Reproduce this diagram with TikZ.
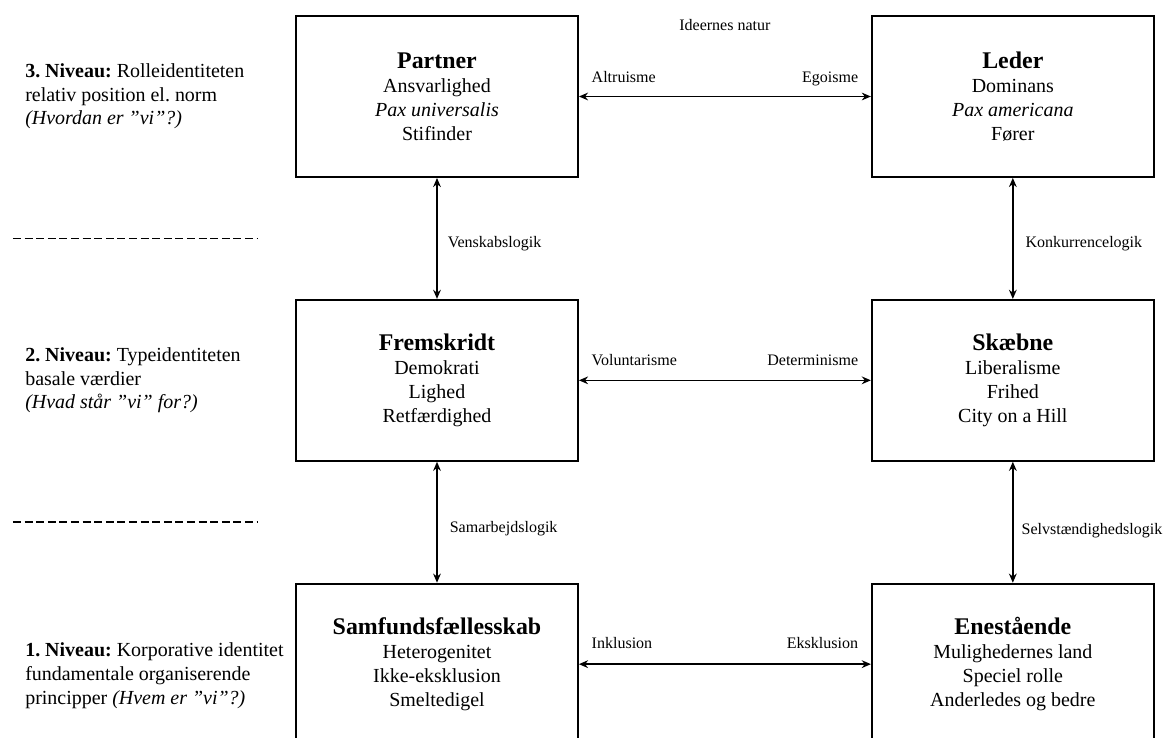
\documentclass[tikz,border=0pt]{standalone}
\usepackage{fontspec}
\setmainfont{Liberation Serif}
\usetikzlibrary{positioning, calc, arrows.meta}
\newcommand{\idtitle}[1]{{\fontsize{17}{20}\selectfont\bfseries #1}}
\frenchspacing

\begin{document}
\begin{tikzpicture}[
    node distance=3.025cm and 7.3cm,
    idbox/.style={rectangle, draw, line width=1.3pt,
                  minimum width=7.05cm, minimum height=4.025cm, align=center,
                  font=\fontsize{14.2}{17}\selectfont},
    level/.style={anchor=west, align=left, inner sep=0pt,
                  font=\fontsize{14.2}{16.8}\selectfont},
    lbl/.style={inner sep=0pt, font=\fontsize{11.4}{13}\selectfont},
    bidir/.style={<->, >={Stealth[length=6.5pt, width=5.5pt]}, line width=1.1pt},
    divider/.style={line width=1.2pt, dash pattern=on 0.2cm off 0.09cm},
  ]
    \useasboundingbox (0,0) rectangle (29.2,-18.45);
    \clip (0,0) rectangle (29.2,-18.45);

    % Boxes
    \node[idbox] (Partner) at (10.925,-2.4125)
      {\idtitle{Partner}\\Ansvarlighed\\\textit{Pax universalis}\\Stifinder};
    \node[idbox, right=of Partner] (Leder)
      {\idtitle{Leder}\\Dominans\\\textit{Pax americana}\\Fører};
    \node[idbox, below=of Partner] (Fremskridt)
      {\idtitle{Fremskridt}\\Demokrati\\Lighed\\Retfærdighed};
    \node[idbox, below=of Leder] (Skaebne)
      {\idtitle{Skæbne}\\Liberalisme\\Frihed\\City on a Hill};
    \node[idbox, below=of Fremskridt] (Samfund)
      {\idtitle{Samfundsfællesskab}\\Heterogenitet\\Ikke-eksklusion\\Smeltedigel};
    \node[idbox, below=of Skaebne] (Enestaaende)
      {\idtitle{Enestående}\\Mulighedernes land\\Speciel rolle\\Anderledes og bedre};

    % Levels
    \coordinate (LX) at (0.625,0);
    \node[level] (L3) at (LX |- Partner)
      {\textbf{3. Niveau:} Rolleidentiteten\\relativ position el. norm\\\textit{(Hvordan er ”vi”?)}};
    \node[level] (L2) at (LX |- Fremskridt)
      {\textbf{2. Niveau:} Typeidentiteten\\basale værdier\\\textit{(Hvad står ”vi” for?)}};
    \node[level, yshift=-0.29cm] (L1) at (LX |- Samfund)
      {\textbf{1. Niveau:} Korporative identitet\\fundamentale organiserende\\principper \textit{(Hvem er ”vi”?)}};

    % Horizontal arrows
    \draw[bidir] (Partner) -- (Leder)
      node[lbl, pos=0, anchor=base west, xshift=0.3cm, yshift=0.34cm] {Altruisme}
      node[lbl, pos=1, anchor=base east, xshift=-0.3cm, yshift=0.34cm] {Egoisme}
      node[lbl, midway, anchor=base, yshift=1.65cm] {Ideernes natur};
    \draw[bidir] (Fremskridt) -- (Skaebne)
      node[lbl, pos=0, anchor=base west, xshift=0.3cm, yshift=0.36cm] {Voluntarisme}
      node[lbl, pos=1, anchor=base east, xshift=-0.3cm, yshift=0.36cm] {Determinisme};
    \draw[bidir] (Samfund) -- (Enestaaende)
      node[lbl, pos=0, anchor=base west, xshift=0.3cm, yshift=0.38cm] {Inklusion}
      node[lbl, pos=1, anchor=base east, xshift=-0.3cm, yshift=0.38cm] {Eksklusion};

    % Vertical arrows
    \draw[bidir] (Partner) -- (Fremskridt)
      node[lbl, midway, anchor=west, xshift=0.25cm, yshift=-0.14cm] {Venskabslogik};
    \draw[bidir] (Leder) -- (Skaebne)
      node[lbl, midway, anchor=west, xshift=0.3cm, yshift=-0.14cm] {Konkurrencelogik};
    \draw[bidir] (Fremskridt) -- (Samfund)
      node[lbl, midway, anchor=west, xshift=0.3cm, yshift=-0.16cm] {Samarbejdslogik};
    \draw[bidir] (Skaebne) -- (Enestaaende)
      node[lbl, midway, anchor=west, xshift=0.2cm, yshift=-0.2cm] {Selvstændighedslogik};

    % Dividers
    \coordinate (DL) at (0.325,0);
    \coordinate (DR) at (6.425,0);
    \coordinate (DY1) at ($(Partner.south)!0.5!(Fremskridt.north)$);
    \coordinate (DY2) at ($(Fremskridt.south)!0.5!(Samfund.north)$);
    \draw[divider] (DL |- DY1) -- (DR |- DY1);
    \draw[divider] (DL |- DY2) -- (DR |- DY2);
  \end{tikzpicture}
\end{document}
